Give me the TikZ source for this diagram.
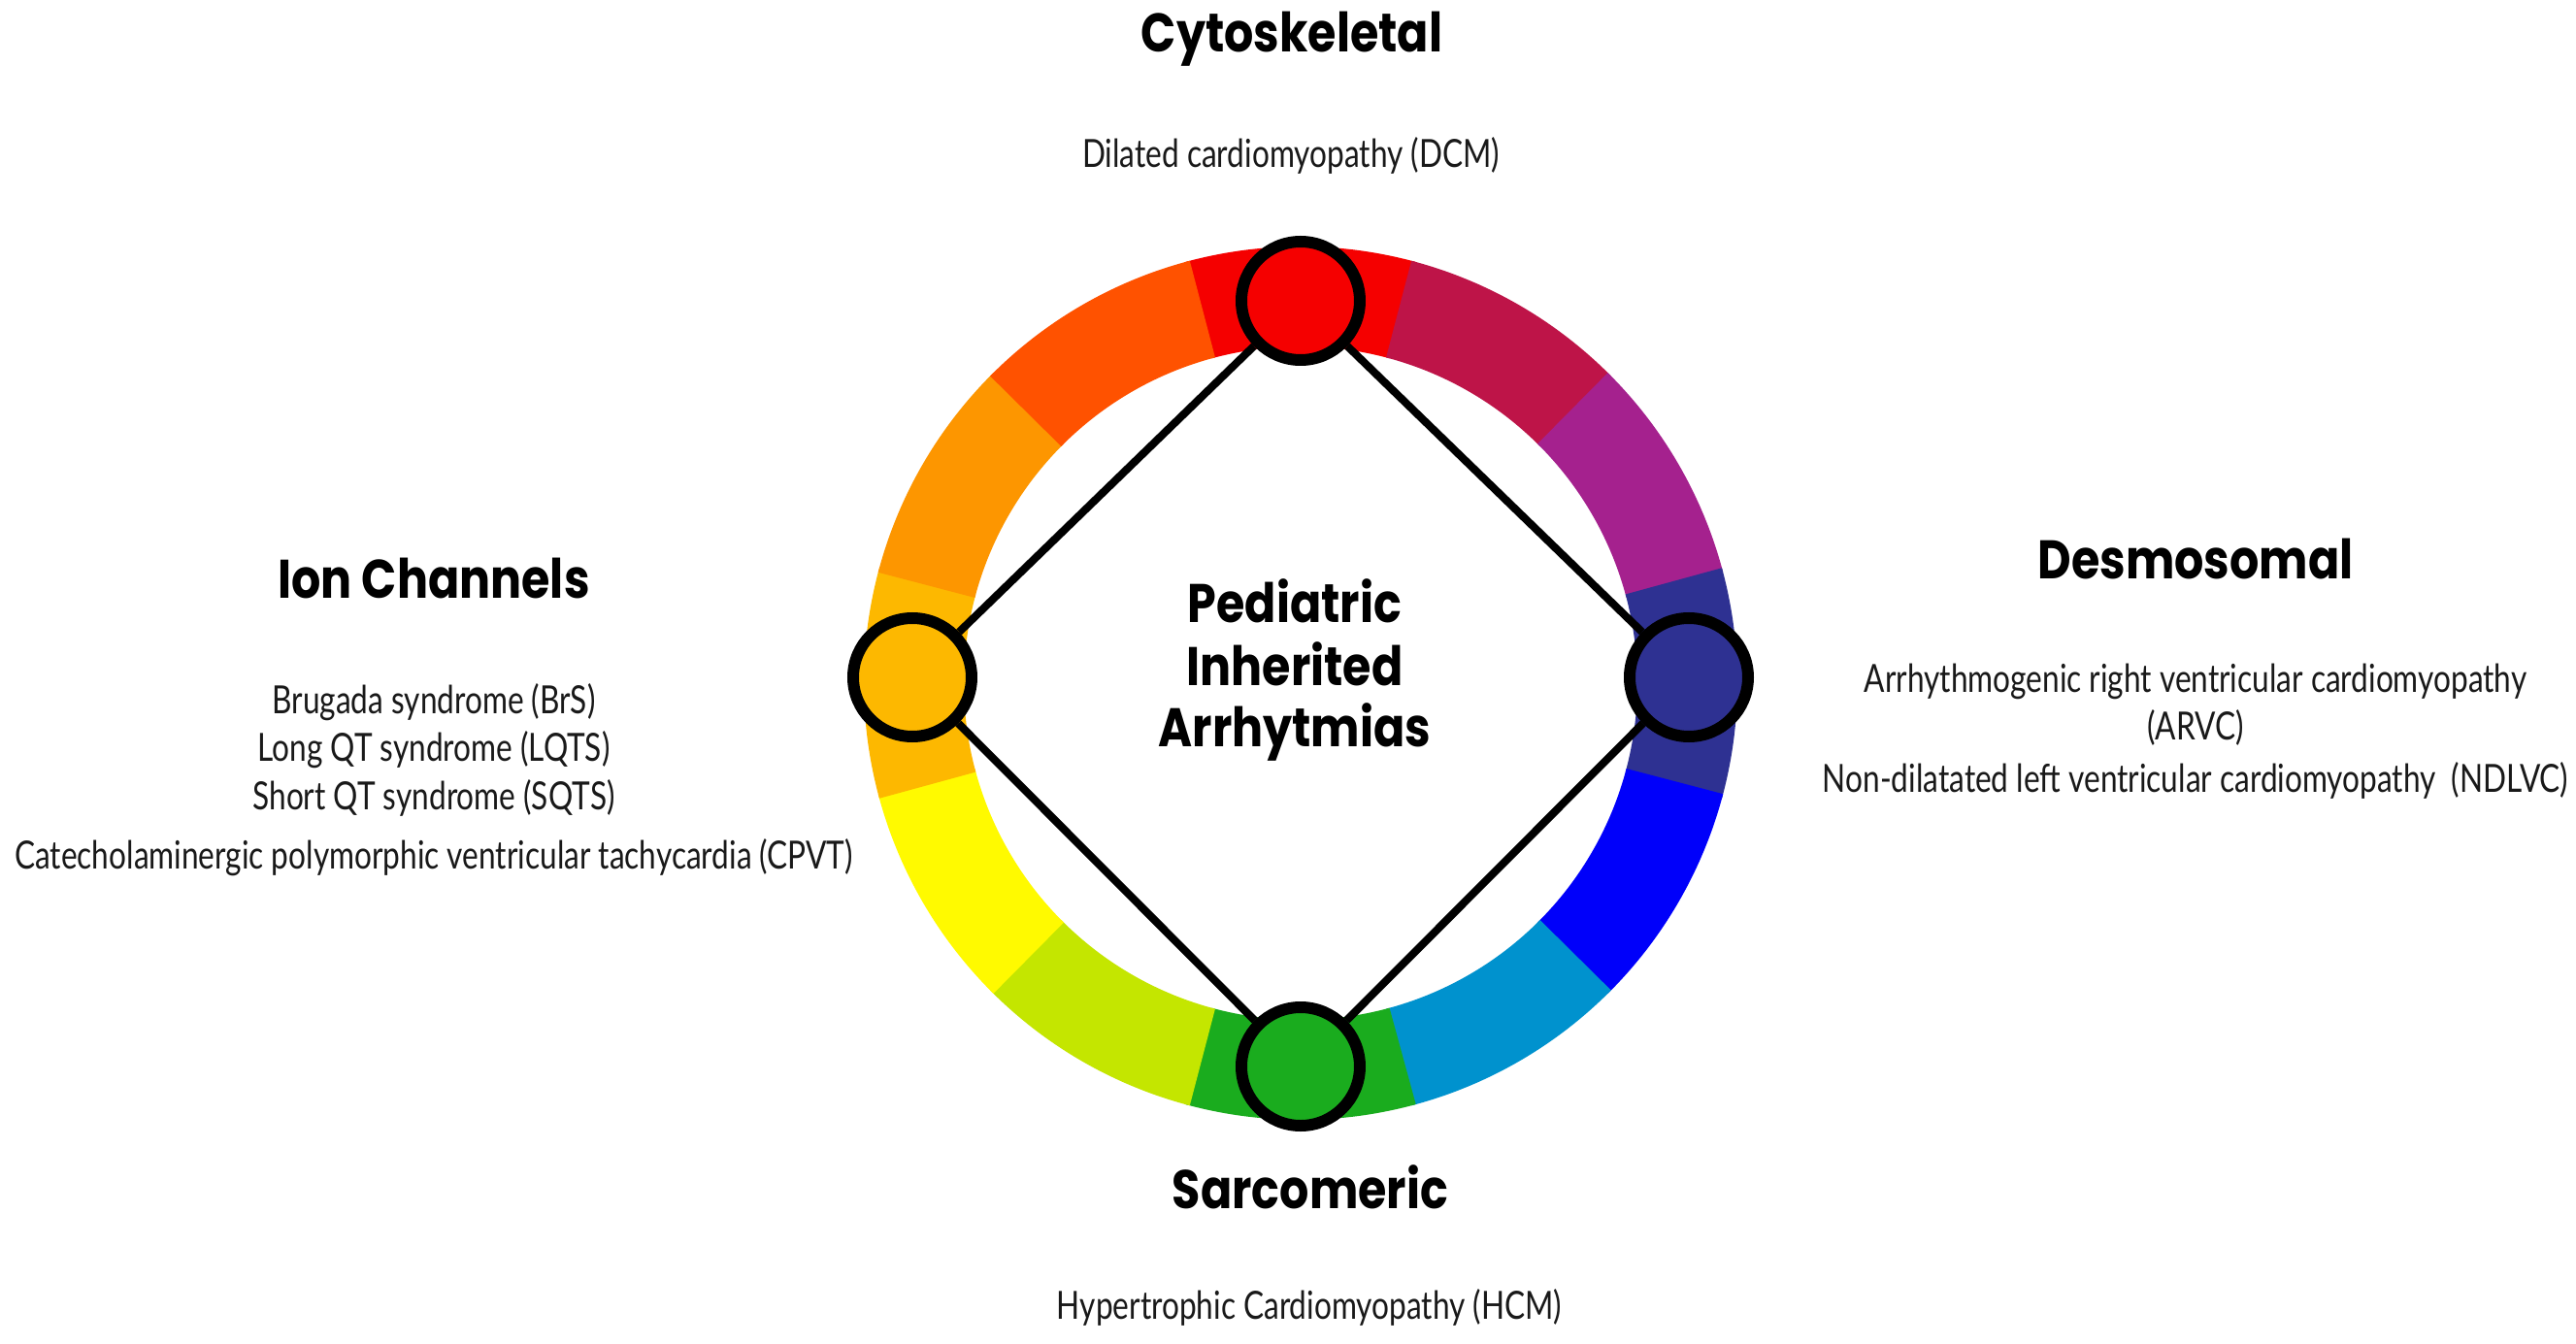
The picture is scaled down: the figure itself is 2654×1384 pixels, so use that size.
\documentclass[tikz,border=0pt]{standalone}
\usepackage{fontspec}
\setmainfont{Lato}[FakeStretch=0.79]
\newfontfamily\headfont{Poppins}[FakeStretch=0.85]
\definecolor{cA}{RGB}{245,0,0}
\definecolor{cB}{RGB}{190,20,72}
\definecolor{cC}{RGB}{165,33,142}
\definecolor{cD}{RGB}{46,49,146}
\definecolor{cE}{RGB}{0,0,250}
\definecolor{cF}{RGB}{0,146,206}
\definecolor{cG}{RGB}{26,172,30}
\definecolor{cH}{RGB}{196,230,0}
\definecolor{cI}{RGB}{255,250,0}
\definecolor{cJ}{RGB}{253,184,0}
\definecolor{cK}{RGB}{253,150,0}
\definecolor{cL}{RGB}{255,82,0}
\definecolor{txt}{RGB}{25,25,25}
\begin{document}
\begin{tikzpicture}[x=1pt,y=1pt,
  hub/.style={circle, draw=black, line width=12pt, minimum size=122pt, inner sep=0pt},
  head/.style={font=\headfont\bfseries\fontsize{56}{60}\selectfont, anchor=base, inner sep=0pt},
  body/.style={font=\fontsize{40}{44}\selectfont, anchor=base, inner sep=0pt, text=txt},
  link/.style={line width=8pt}]
\useasboundingbox[fill=white] (-1340,-676) rectangle (1314,708);
% colour ring
\begin{scope}[shift={(0,4)}]
\foreach \a/\c in {90/cA,60/cB,30/cC,0/cD,-30/cE,-60/cF,-90/cG,-120/cH,-150/cI,180/cJ,150/cK,120/cL}{
  \pgfmathsetmacro\sa{\a-15.3}
  \pgfmathsetmacro\ea{\a+15.3}
  \fill[\c] (\sa:450) arc[start angle=\sa, end angle=\ea, radius=450]
    -- (\ea:347) arc[start angle=\ea, end angle=\sa, radius=347] -- cycle;
}
\end{scope}
% hubs
\node[hub, fill=cA] (top) at (0,398) {};
\node[hub, fill=cD] (right) at (400,10) {};
\node[hub, fill=cG] (bottom) at (0,-391) {};
\node[hub, fill=cJ] (left) at (-400,10) {};
\draw[link] (top) -- (left);
\draw[link] (top) -- (right);
\draw[link] (bottom) -- (left);
\draw[link] (bottom) -- (right);
% centre
\node[head] (c1) at (-6,67) {Pediatric};
\node[head] (c2) at (-6,2) {Inherited};
\node[head] (c3) at (-6,-61) {Arrhytmias};
% top
\node[head] (cyto) at (-9,654) {Cytoskeletal};
\node[body] (dcm) at (-10,535) {Dilated cardiomyopathy (DCM)};
% left
\node[head] (ion) at (-893,92) {Ion Channels};
\node[body] (brs) at (-893,-27) {Brugada syndrome (BrS)};
\node[body] (lqts) at (-893,-76) {Long QT syndrome (LQTS)};
\node[body] (sqts) at (-893,-126) {Short QT syndrome (SQTS)};
\node[body] (cpvt) at (-893,-187) {Catecholaminergic polymorphic ventricular tachycardia (CPVT)};
% right
\node[head] (des) at (922,112) {Desmosomal};
\node[body] (arvc1) at (922,-5) {Arrhythmogenic right ventricular cardiomyopathy};
\node[body] (arvc2) at (922,-54) {(ARVC)};
\node[body] (ndlvc) at (922,-108) {Non-dilatated left ventricular cardiomyopathy\ \ (NDLVC)};
% bottom
\node[head] (sarc) at (10,-537) {Sarcomeric};
\node[body] (hcm) at (9,-651) {Hypertrophic Cardiomyopathy (HCM)};
\end{tikzpicture}
\end{document}
